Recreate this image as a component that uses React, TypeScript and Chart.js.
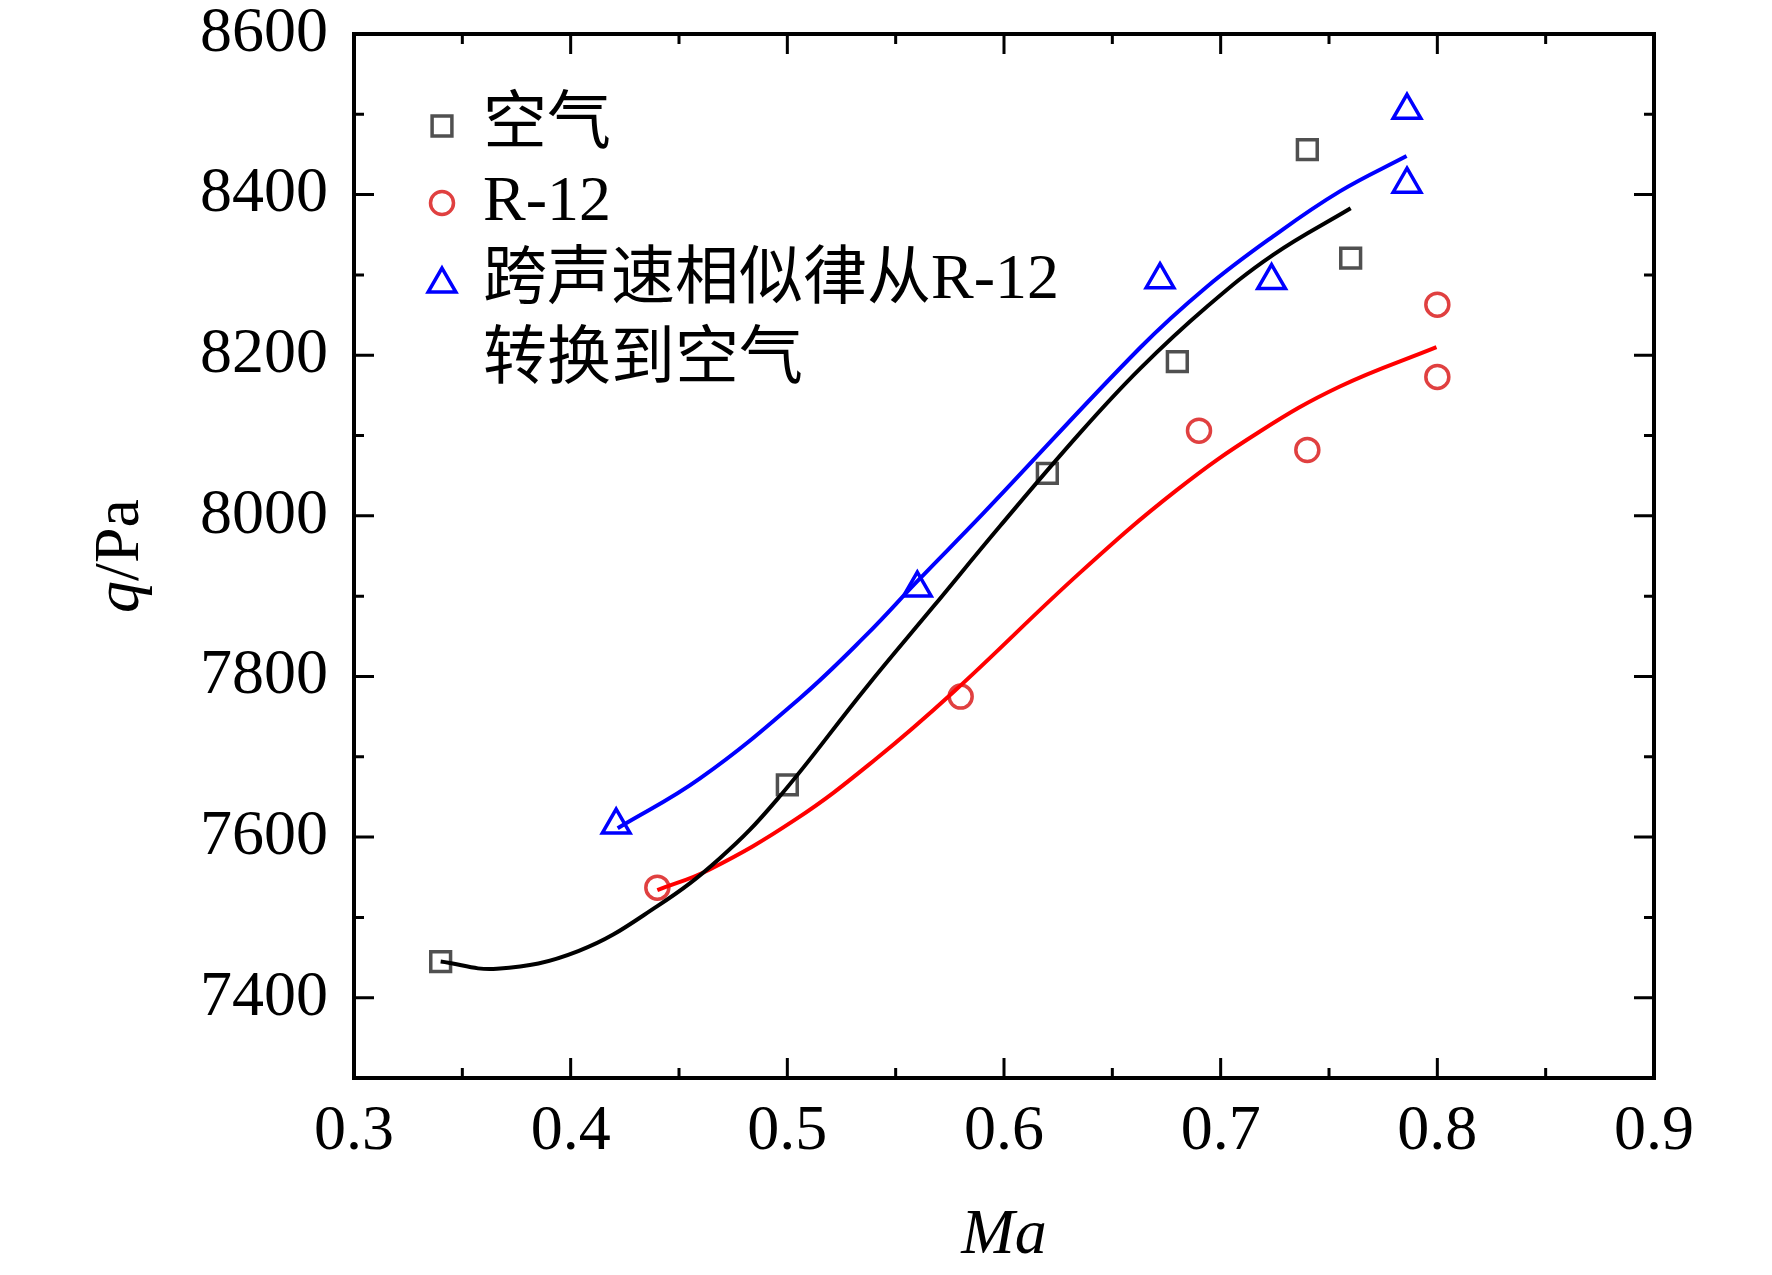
import { useEffect, useRef } from "react";
import { Chart, registerables } from "chart.js";
import { drawPoint } from "chart.js/helpers";

Chart.register(...registerables);

// measured points
const airMa = [0.34, 0.5, 0.62, 0.68, 0.74, 0.76];
const airQ = [7445, 7665, 8053, 8192, 8456, 8321];
const r12Ma = [0.44, 0.58, 0.69, 0.74, 0.8, 0.8];
const r12Q = [7537, 7775, 8106, 8082, 8263, 8173];
const convMa = [0.421, 0.56, 0.672, 0.7235, 0.786, 0.786];
const convQ = [7615, 7910, 8294, 8293, 8505, 8413];

// fitted curves
const airFitMa = [0.34, 0.366, 0.4035, 0.44, 0.469, 0.495, 0.5366, 0.5674, 0.5981, 0.635, 0.6627, 0.6935, 0.7242, 0.76];
const airFitQ = [7445, 7436, 7458, 7514, 7574, 7646, 7787, 7887, 7987, 8103, 8183, 8260, 8325, 8383];
const r12FitMa = [0.44, 0.4637, 0.5038, 0.5403, 0.5768, 0.635, 0.6797, 0.7181, 0.755, 0.7996];
const r12FitQ = [7534, 7559, 7622, 7696, 7781, 7929, 8032, 8105, 8161, 8210];
const convFitMa = [0.4217, 0.4597, 0.5058, 0.5366, 0.5598, 0.5904, 0.6627, 0.6935, 0.7242, 0.755, 0.7858];
const convFitQ = [7611, 7673, 7773, 7852, 7918, 8003, 8209, 8285, 8348, 8404, 8448];

const maTicks = [0.3, 0.4, 0.5, 0.6, 0.7, 0.8, 0.9];
const maMinor = [0.35, 0.45, 0.55, 0.65, 0.75, 0.85];
const qTicks = [7400, 7600, 7800, 8000, 8200, 8400, 8600];
const qMinor = [7500, 7700, 7900, 8100, 8300, 8500];

const legendLabels = ["空气", "R-12", "跨声速相似律从R-12\n转换到空气"];

const FONT = "'Liberation Serif', 'Noto Sans CJK SC', serif";

const pts = (xs: number[], ys: number[]) => xs.map((x, i) => ({ x, y: ys[i] }));

const frame = {
  id: "frame",
  afterDraw(chart: any) {
    const { ctx, chartArea: a, scales } = chart;
    const xs = scales.x;
    const ys = scales.y;
    ctx.save();
    ctx.strokeStyle = "#000";
    ctx.lineWidth = 3;
    const tick = (vals: number[], len: number) => {
      vals.forEach((v) => {
        const px = xs.getPixelForValue(v);
        ctx.beginPath();
        ctx.moveTo(px, a.bottom);
        ctx.lineTo(px, a.bottom - len);
        ctx.moveTo(px, a.top);
        ctx.lineTo(px, a.top + len);
        ctx.stroke();
      });
    };
    const tickY = (vals: number[], len: number) => {
      vals.forEach((v) => {
        const py = ys.getPixelForValue(v);
        ctx.beginPath();
        ctx.moveTo(a.left, py);
        ctx.lineTo(a.left + len, py);
        ctx.moveTo(a.right, py);
        ctx.lineTo(a.right - len, py);
        ctx.stroke();
      });
    };
    tick(maTicks, 20);
    tick(maMinor, 10);
    tickY(qTicks, 20);
    tickY(qMinor, 10);
    ctx.lineWidth = 4;
    ctx.strokeRect(a.left, a.top, a.right - a.left, a.bottom - a.top);

    // y title: q/Pa
    ctx.translate(121, (a.top + a.bottom) / 2);
    ctx.rotate(-Math.PI / 2);
    ctx.fillStyle = "#000";
    ctx.textBaseline = "middle";
    ctx.font = "italic 64px " + FONT;
    const w1 = ctx.measureText("q").width;
    ctx.font = "64px " + FONT;
    const w2 = ctx.measureText("/Pa").width;
    const x0 = -(w1 + w2) / 2;
    ctx.font = "italic 64px " + FONT;
    ctx.fillText("q", x0, 0);
    ctx.font = "64px " + FONT;
    ctx.fillText("/Pa", x0 + w1, 0);
    ctx.restore();

    // legend
    ctx.save();
    const rows = [a.top + 92, a.top + 169, a.top + 247];
    const markerDs = chart.data.datasets.slice(3);
    markerDs.forEach((ds: any, i: number) => {
      const y = rows[i];
      ctx.save();
      ctx.strokeStyle = ds.borderColor;
      ctx.fillStyle = "rgba(0,0,0,0)";
      ctx.lineWidth = ds.borderWidth;
      const style = ds.pointStyle;
      const r = ds.pointRadius;
      const py = style === "triangle" ? y + 3 : y;
      drawPoint(ctx, { pointStyle: style, radius: r, borderWidth: ds.borderWidth, rotation: 0 } as any, a.left + 88, py);
      ctx.restore();
      ctx.font = "64px " + FONT;
      ctx.textBaseline = "middle";
      ctx.fillStyle = "#000";
      const lines = legendLabels[i].split("\n");
      lines.forEach((t, k) => ctx.fillText(t, a.left + 129, y + k * 80));
    });
    ctx.restore();
  },
};

const App = () => {
  const ref: any = useRef(null);
  useEffect(() => {
    document.body.style.margin = "0";
    const fit = (data: any[], color: string) => ({
      type: "line",
      data,
      borderColor: color,
      borderWidth: 4,
      pointRadius: 0,
      showLine: true,
      fill: false,
      tension: 0.4,
    });
    const mark = (data: any[], color: string, style: string, r: number) => ({
      type: "scatter",
      data,
      borderColor: color,
      backgroundColor: "rgba(0,0,0,0)",
      borderWidth: 3.5,
      pointStyle: style,
      pointRadius: r,
      showLine: false,
    });
    const chart = new Chart(ref.current.getContext("2d"), {
      type: "scatter",
      data: {
        datasets: [
          fit(pts(airFitMa, airFitQ), "#000000"),
          fit(pts(r12FitMa, r12FitQ), "#ff0000"),
          fit(pts(convFitMa, convFitQ), "#0000ff"),
          mark(pts(airMa, airQ), "#505050", "rect", 14),
          mark(pts(r12Ma, r12Q), "#e04040", "circle", 11.5),
          mark(pts(convMa, convQ), "#0000ff", "triangle", 16),
        ] as any,
      },
      options: {
        animation: false,
        responsive: true,
        maintainAspectRatio: false,
        devicePixelRatio: 1,
        layout: { padding: { top: 34, right: 118, left: 0, bottom: 0 } },
        plugins: { legend: { display: false }, tooltip: { enabled: false } },
        scales: {
          x: {
            type: "linear",
            min: 0.3,
            max: 0.9,
            grid: { display: false, drawTicks: false },
            border: { display: false },
            afterBuildTicks: (s: any) => {
              s.ticks = maTicks.map((v) => ({ value: v }));
            },
            afterFit: (s: any) => {
              s.height = 197;
              s.paddingLeft = 0;
              s.paddingRight = 0;
            },
            ticks: {
              color: "#000",
              padding: 22,
              maxRotation: 0,
              font: { family: FONT, size: 64, lineHeight: 1 },
              callback: (v: any) => Number(v).toFixed(1),
            },
            title: {
              display: true,
              text: "Ma",
              color: "#000",
              padding: { top: 0, bottom: 0 },
              font: { family: FONT, size: 64, style: "italic" },
            },
          },
          y: {
            type: "linear",
            min: 7300,
            max: 8600,
            grid: { display: false, drawTicks: false },
            border: { display: false },
            afterBuildTicks: (s: any) => {
              s.ticks = qTicks.map((v) => ({ value: v }));
            },
            afterFit: (s: any) => {
              s.width = 354;
              s.paddingTop = 0;
              s.paddingBottom = 0;
            },
            ticks: {
              color: "#000",
              padding: 26,
              font: { family: FONT, size: 64, lineHeight: 1 },
              callback: (v: any) => String(v),
            },
          },
        },
      },
      plugins: [frame],
    } as any);
    return () => {
      chart.destroy();
    };
  }, []);

  return (
    <div style={{ position: "absolute", left: 0, top: 0, width: 1772, height: 1275, background: "#fff" }}>
      <canvas ref={ref} />
    </div>
  );
};

export default App;
